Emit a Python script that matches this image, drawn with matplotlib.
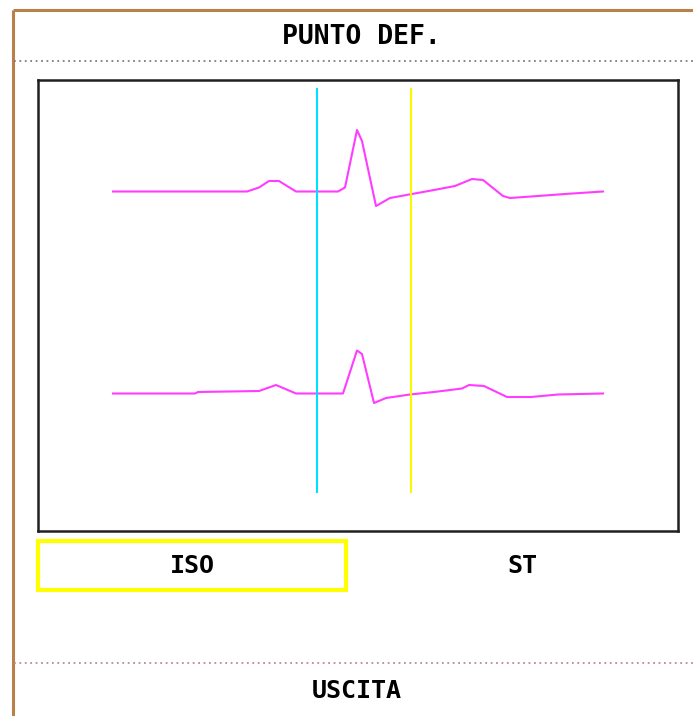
import matplotlib
matplotlib.use("Agg")
import matplotlib.pyplot as plt
from matplotlib.patches import Rectangle

# ---- data ----
title = "PUNTO DEF."
iso_ms = 80
st_ms = 108
r_peak_ms = 638
button_labels = ["ISO", "ST"]
exit_label = "USCITA"

# lead 1 (upper trace): time (ms) and amplitude (mV, relative to baseline)
t1 = [150, 418, 442, 462, 482, 498, 516, 600, 614, 638, 648, 676, 704, 748,
      792, 834, 868, 890, 930, 944, 1000, 1054, 1130]
a1 = [0, 0, 0.08, 0.21, 0.21, 0.11, 0, 0, 0.08, 1.23, 1.01, -0.29, -0.13, -0.05,
      0.03, 0.11, 0.25, 0.23, -0.09, -0.13, -0.09, -0.05, 0]
# lead 2 (lower trace)
t2 = [150, 314, 320, 442, 476, 516, 610, 638, 648, 672, 696, 744, 792, 848,
      862, 892, 938, 986, 1040, 1130]
a2 = [0, 0, 0.03, 0.05, 0.17, 0, 0, 0.86, 0.79, -0.19, -0.09, -0.02, 0.03, 0.10,
      0.17, 0.15, -0.07, -0.07, -0.02, 0]
offset1 = 6.79
offset2 = 2.75

W, H = 693, 716
fig = plt.figure(figsize=(W / 100, H / 100), dpi=100)
fig.patch.set_facecolor("white")

bg = fig.add_axes([0, 0, 1, 1])
bg.set_xlim(0, W)
bg.set_ylim(H, 0)
bg.axis("off")

brown = "#b8814a"
bg.plot([12.5, 12.5], [H, 10], color=brown, lw=2.2, solid_capstyle="butt")
bg.plot([12.5, W], [10, 10], color=brown, lw=2.2, solid_capstyle="butt")

# dotted separators
bg.plot([14, W], [61, 61], color="#7d7d88", lw=1.3, linestyle=(0, (1.0, 2.0)))
bg.plot([14, W], [663, 663], color="#c48595", lw=1.3, linestyle=(0, (1.0, 2.0)))

bg.text(361, 37, title, ha="center", va="center", fontsize=19,
        family="DejaVu Sans Mono", fontweight="bold", color="black")

# buttons
bg.add_patch(Rectangle((38, 541), 308, 49, fill=False, ec="#ffff00", lw=3))
bg.text(192, 566, button_labels[0], ha="center", va="center", fontsize=18,
        family="DejaVu Sans Mono", fontweight="bold", color="black")
bg.text(522, 566, button_labels[1], ha="center", va="center", fontsize=18,
        family="DejaVu Sans Mono", fontweight="bold", color="black")
bg.text(357, 691, exit_label, ha="center", va="center", fontsize=18,
        family="DejaVu Sans Mono", fontweight="bold", color="black")

# ECG box
box_l, box_r, box_t, box_b = 38, 678, 80, 531
ax = fig.add_axes([box_l / W, 1 - box_b / H, (box_r - box_l) / W, (box_b - box_t) / H])
ax.set_xlim(0, 1280)
ax.set_ylim(0, 9.02)
ax.set_xticks([])
ax.set_yticks([])
for s in ax.spines.values():
    s.set_color("#202020")
    s.set_linewidth(1.8)

magenta = "#ff3cff"
ax.plot(t1, [v + offset1 for v in a1], color=magenta, lw=1.5)
ax.plot(t2, [v + offset2 for v in a2], color=magenta, lw=1.5)

ax.axvline(r_peak_ms - iso_ms, ymin=0.0865, ymax=0.98, color="#00e0ff", lw=1.5)
ax.axvline(r_peak_ms + st_ms, ymin=0.0865, ymax=0.98, color="#f8f800", lw=1.5)

bg.text(192, 507, f"ISO:  {iso_ms} ms", ha="left", va="center", fontsize=14,
        family="Liberation Mono", color="#111111")
bg.text(400, 507, f"ST: {st_ms} ms", ha="left", va="center", fontsize=14,
        family="Liberation Mono", color="#111111")

fig.savefig("out.png", dpi=100, facecolor="white")
